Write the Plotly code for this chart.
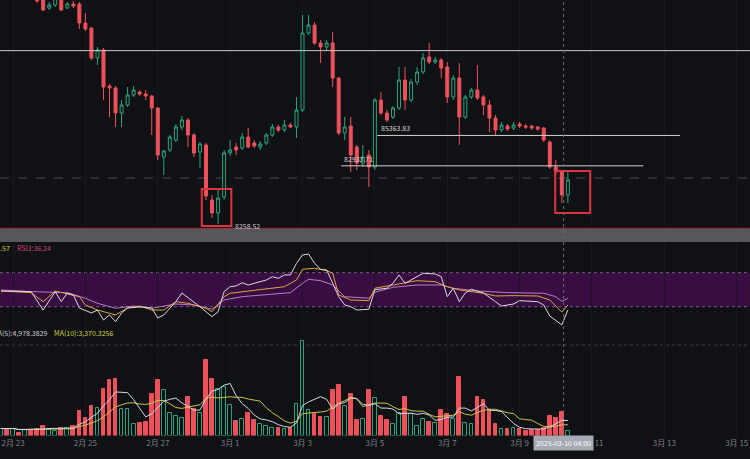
import pandas as pd
import plotly.graph_objects as go
from plotly.subplots import make_subplots

# ---------------- data ----------------
base = pd.Timestamp("2025-02-23 00:00")
candle_idx = list(range(-2, 93))   # 4h candles, index 0 = 2025-02-23 00:00

opens = [96840, 97160, 96680, 97000, 96520, 96840, 96600, 96200, 95560, 95800,
         96280, 95560, 95880, 95880, 94360, 93960, 91560, 92200, 89320, 89160,
         87160, 87800, 88600, 88840, 88680, 88520, 87560, 83640, 84200, 85000,
         86040, 86600, 85400, 84040, 84600, 80200, 79160, 80440, 83960, 84440,
         84360, 85240, 84760, 84440, 84760, 85400, 86040, 85800, 86200, 86040,
         87400, 93560, 94200, 92760, 92440, 92760, 89960, 85560, 86120, 84440,
         83160, 83800, 82840, 88200, 87160, 86840, 87560, 89800, 88200, 89640,
         90440, 91640, 91240, 91400, 90840, 88440, 89960, 86840, 88440, 89000,
         88440, 87800, 86760, 85800, 86120, 85960, 86280, 86120, 86120, 86040,
         85960, 84840, 82840, 82440, 80600]
highs = [97480, 97400, 97320, 97240, 97080, 97160, 96920, 96440, 96040, 96600,
         96440, 96040, 96120, 96040, 95160, 94040, 92440, 92360, 89480, 89320,
         88200, 89240, 89320, 89000, 89000, 88600, 87640, 84200, 85400, 86280,
         86920, 86760, 85560, 84840, 84760, 80600, 81000, 84200, 85000, 84760,
         85560, 85960, 85000, 84920, 85560, 86280, 86200, 86600, 86360, 88440,
         95000, 95000, 94440, 93000, 93000, 93640, 90040, 86840, 86840, 84600,
         84600, 84200, 88360, 88840, 87400, 87720, 90840, 90840, 89880, 90840,
         91960, 92760, 91640, 91560, 91240, 90200, 91160, 88600, 89160, 91000,
         88600, 88200, 87000, 86440, 86280, 86440, 86440, 86280, 86200, 86120,
         86040, 85000, 83400, 82600, 82600]
lows = [96520, 96440, 96440, 96360, 96280, 96280, 95960, 95320, 95400, 95640,
        95320, 95480, 95560, 93880, 93720, 91400, 91000, 88200, 86840, 86040,
        86040, 87640, 88440, 88520, 88200, 85400, 83400, 82200, 84040, 84840,
        85800, 84440, 83640, 82760, 80200, 78760, 78258.52, 80200, 83720, 83800,
        84200, 84360, 84360, 84200, 84600, 85240, 85640, 85640, 85960, 85160,
        87240, 93400, 92600, 91160, 92200, 89240, 85400, 85000, 82440, 82600,
        82840, 81240, 82600, 87000, 86440, 86680, 87400, 87400, 88040, 89400,
        90280, 91080, 91080, 89960, 87960, 88200, 84600, 86680, 88280, 88200,
        87000, 85640, 85400, 85640, 85720, 85800, 85960, 85880, 85800, 85720,
        84840, 82680, 82200, 79960, 79960]
closes = [97160, 96680, 97000, 96520, 96840, 96600, 96120, 95400, 95800, 96360,
          95400, 95880, 95720, 94360, 93880, 91560, 92200, 89240, 89160, 87160,
          87800, 88600, 89000, 88680, 88520, 87560, 83800, 84120, 85240, 86040,
          86600, 85400, 83960, 84680, 80520, 79160, 80360, 83960, 84200, 84200,
          85240, 84440, 84520, 84680, 85400, 86040, 85800, 86200, 86040, 87400,
          93560, 94200, 92760, 92440, 92760, 89960, 85560, 86040, 83800, 83160,
          83640, 82840, 88200, 87160, 86600, 87560, 89800, 88200, 89640, 90440,
          91560, 91240, 91400, 90760, 88440, 89960, 86840, 88440, 89000, 88360,
          87800, 86760, 85800, 86200, 85880, 86200, 86120, 86040, 85960, 85880,
          85000, 82840, 82440, 80600, 81800]
volumes = [2310, 2310, 2310, 990, 1980, 1980, 2310, 3300, 1980, 1650,
           2640, 2640, 3300, 8250, 5940, 9900, 9240, 15510, 18480, 18810,
           8910, 8910, 3960, 4290, 4620, 13860, 18480, 15180, 7590, 6600,
           5940, 12870, 8910, 7590, 25080, 18810, 15510, 16170, 10230, 4950,
           5610, 7590, 5280, 3960, 3300, 2640, 2640, 2310, 2640, 10560,
           31350, 8580, 7260, 6270, 6270, 15180, 16830, 9900, 13860, 5280,
           5610, 15180, 12540, 6600, 5280, 3960, 7590, 12870, 7260, 3300,
           5610, 4620, 4290, 8580, 7260, 5610, 19470, 4290, 3960, 12870,
           11880, 8580, 3960, 2310, 2310, 2640, 2310, 1650, 1980, 1980,
           2640, 6600, 5940, 7920, 1650]

rsi1_idx = [-2, 3, 5, 7, 8, 9, 10, 11, 13, 14, 15, 16, 17, 18, 19, 21, 23, 24, 25, 27,
            28, 30, 31, 32, 33, 34, 35, 36, 37, 38, 39, 40, 42, 43, 44, 45, 46, 47, 48, 49,
            50, 51, 52, 53, 54, 55, 56, 57, 59, 60, 62, 63, 64, 65, 67, 68, 70, 71, 72, 73,
            74, 75, 76, 78, 80, 81, 83, 84, 87, 88, 89, 90, 91, 92]
rsi1_val = [48.5, 47.7, 26.1, 47.7, 35.9, 46.1, 43.8, 28.5, 22.6, 26.1, 14.4, 20.3, 12.4, 22.6, 28.5, 29.7, 28.5, 16.7, 20.3, 35.9,
            46.1, 35.9, 30.0, 24.1, 18.3, 24.1, 47.7, 53.5, 54.4, 58.2, 55.5, 57.5, 61.4, 65.3, 63.4, 67.3, 67.3, 81.0, 90.8, 92.0,
            81.0, 74.0, 73.2, 57.5, 41.8, 32.0, 30.0, 26.1, 27.0, 50.0, 51.7, 57.5, 67.3, 57.5, 65.3, 69.3, 68.5, 65.3, 41.8, 51.7,
            35.9, 46.1, 50.5, 46.1, 35.9, 30.8, 33.2, 37.1, 35.9, 32.0, 19.1, 13.6, 8.5, 26.1]
rsi2_idx = [-2, 3, 5, 7, 9, 11, 12, 14, 17, 19, 21, 23, 25, 27, 29, 32, 33, 35, 36, 39,
            42, 45, 47, 48, 50, 52, 53, 54, 56, 59, 60, 63, 65, 67, 70, 72, 74, 78, 80, 83,
            87, 89, 90, 91, 92]
rsi2_val = [48.5, 46.5, 35.9, 48.5, 45.0, 41.8, 32.0, 26.1, 20.3, 28.5, 30.8, 26.1, 26.1, 35.9, 34.0, 28.1, 24.1, 41.8, 45.8, 48.5,
            50.5, 53.5, 61.4, 74.0, 75.2, 72.4, 69.3, 43.8, 37.9, 37.1, 51.7, 55.5, 57.5, 60.6, 59.4, 53.5, 49.7, 45.8, 42.6, 43.0,
            42.6, 37.9, 30.8, 23.57, 32.0]
rsi3_idx = [-2, 3, 9, 12, 14, 17, 20, 23, 27, 30, 33, 35, 38, 42, 46, 48, 49, 51, 53, 55,
            58, 59, 60, 63, 67, 71, 73, 77, 82, 88, 90, 91, 92]
rsi3_val = [49.7, 47.7, 46.5, 39.9, 34.0, 28.1, 30.8, 28.1, 33.2, 32.0, 27.0, 37.9, 41.8, 43.8, 46.5, 57.5, 62.2, 60.6, 55.5, 41.8,
            39.9, 40.0, 47.0, 52.8, 55.5, 55.5, 51.7, 48.5, 46.5, 45.8, 41.8, 36.24, 39.9]

level_top = 92150          # long white horizontal line
level_a = 85363.83
level_b = 82933.71
low_value = 78258.52
dash_level = 81960
tick_dates = ["2025-02-23", "2025-02-25", "2025-02-27", "2025-03-01", "2025-03-03", "2025-03-05",
              "2025-03-07", "2025-03-09", "2025-03-11", "2025-03-13", "2025-03-15"]
tick_text = ["2月 23", "2月 25", "2月 27", "3月 1", "3月 3", "3月 5", "3月 7", "3月 9", "3月 11", "3月 13", "3月 15"]

# ---------------- helpers / style ----------------
def t(i):
    return base + pd.Timedelta(hours=4 * i)

times = [t(i) for i in candle_idx]
BG = "#101114"
RED = "#f0505a"
GREEN = "#27a67c"
FONT = "Noto Sans CJK SC, Roboto, sans-serif"

fig = make_subplots(rows=3, cols=1, shared_xaxes=True, vertical_spacing=0)

fig.add_trace(go.Candlestick(
    x=times, open=opens, high=highs, low=lows, close=closes,
    increasing=dict(line=dict(color=GREEN, width=1), fillcolor=BG),
    decreasing=dict(line=dict(color=RED, width=1), fillcolor=RED),
    whiskerwidth=0, hoverinfo="skip", showlegend=False), row=1, col=1)

for ix, vals, col in [(rsi3_idx, rsi3_val, "#b77cc6"), (rsi2_idx, rsi2_val, "#e3a23f"),
                      (rsi1_idx, rsi1_val, "#d9d9dc")]:
    fig.add_trace(go.Scatter(x=[t(i) for i in ix], y=vals, mode="lines",
                             line=dict(color=col, width=1), hoverinfo="skip",
                             showlegend=False), row=2, col=1)

up = [c >= o for o, c in zip(opens, closes)]
fig.add_trace(go.Bar(
    x=times, y=volumes, width=4 * 3600 * 1000 * 0.62,
    marker=dict(color=[BG if u else RED for u in up],
                line=dict(color=[GREEN if u else RED for u in up], width=1)),
    hoverinfo="skip", showlegend=False), row=3, col=1)
vs = pd.Series(volumes)
ma5 = vs.rolling(5, min_periods=1).mean()
ma10 = vs.rolling(10, min_periods=1).mean()
fig.add_trace(go.Scatter(x=times, y=ma10, mode="lines", line=dict(color="#c9c64a", width=1),
                         hoverinfo="skip", showlegend=False), row=3, col=1)
fig.add_trace(go.Scatter(x=times, y=ma5, mode="lines", line=dict(color="#cfd8e6", width=1),
                         hoverinfo="skip", showlegend=False), row=3, col=1)

H = 459.0
def py(px):
    return 1 - px / H

xrange_ = [t(-2.16), t(122.2)]
for ax in ["xaxis", "xaxis2", "xaxis3"]:
    fig.layout[ax].update(range=xrange_, showgrid=True, gridcolor="#18191d", gridwidth=1,
                          tickvals=tick_dates, zeroline=False, showline=False, automargin=False,
                          rangeslider=dict(visible=False), showticklabels=False, ticks="")
fig.layout.xaxis3.update(showticklabels=True, ticktext=tick_text, ticklabelstandoff=1,
                         tickfont=dict(color="#7b7e85", size=8, family=FONT))

fig.layout.yaxis.update(domain=[py(228), 1], range=[77960, 96200], showticklabels=False,
                        showgrid=False, zeroline=False, automargin=False)
fig.layout.yaxis2.update(domain=[py(326), py(243)], range=[7.3, 104.9], showticklabels=False,
                         showgrid=False, zeroline=False, automargin=False)
fig.layout.yaxis3.update(domain=[py(435.5), py(326)], range=[0, 36135], showticklabels=False,
                         showgrid=False, zeroline=False, automargin=False)

shapes = [
    dict(type="rect", xref="paper", yref="paper", x0=0, x1=1, y0=py(242), y1=py(229),
         fillcolor="#55575a", line=dict(width=0), layer="below"),
    dict(type="line", xref="paper", yref="paper", x0=0, x1=1, y0=py(228.3), y1=py(228.3),
         line=dict(color="#a83a48", width=1)),
    dict(type="rect", xref="paper", yref="y2", x0=0, x1=1, y0=30, y1=70,
         fillcolor="#380e42", line=dict(width=0), layer="below"),
    dict(type="line", xref="paper", yref="y2", x0=0, x1=1, y0=70, y1=70,
         line=dict(color="#7e5a86", width=1, dash="dot"), layer="below"),
    dict(type="line", xref="paper", yref="y2", x0=0, x1=1, y0=30, y1=30,
         line=dict(color="#7e5a86", width=1, dash="dot"), layer="below"),
    dict(type="line", xref="paper", yref="y3", x0=0, x1=1, y0=29865, y1=29865,
         line=dict(color="#3c3e44", width=1, dash="dot"), layer="below"),
    dict(type="line", xref="paper", yref="y", x0=0, x1=1, y0=level_top, y1=level_top,
         line=dict(color="#c8c8c8", width=1)),
    dict(type="line", xref="paper", yref="y", x0=0, x1=1, y0=dash_level, y1=dash_level,
         line=dict(color="#4a4d52", width=1, dash="dash"), layer="below"),
    dict(type="line", xref="x", yref="y", x0=t(60.4), x1=t(110.6), y0=level_a, y1=level_a,
         line=dict(color="#d0d0d0", width=1)),
    dict(type="line", xref="x", yref="y", x0=t(54.4), x1=t(104.5), y0=level_b, y1=level_b,
         line=dict(color="#d0d0d0", width=1)),
    dict(type="rect", xref="x", yref="y", x0=t(31.3), x1=t(36.2), y0=78120, y1=81080,
         line=dict(color="#e0323c", width=2)),
    dict(type="rect", xref="x", yref="y", x0=t(89.9), x1=t(95.7), y0=79160, y1=82520,
         line=dict(color="#e0323c", width=2)),
    dict(type="line", xref="x", yref="paper", x0=t(91.3), x1=t(91.3), y0=py(437), y1=1,
         line=dict(color="#6a6c72", width=1, dash="dot")),
]
fig.update_layout(shapes=shapes)

ann = [
    dict(x=t(60.6), y=level_a, xref="x", yref="y", text="85363.83", showarrow=False,
         xanchor="left", yanchor="bottom", yshift=0, font=dict(color="#d4d4d4", size=7, family=FONT)),
    dict(x=t(54.5), y=level_b, xref="x", yref="y", text="82933.71", showarrow=False,
         xanchor="left", yanchor="bottom", yshift=0, font=dict(color="#d4d4d4", size=7, family=FONT)),
    dict(x=t(36.4), y=78120, xref="x", yref="y", text="8258.52", showarrow=False,
         xanchor="left", yanchor="middle", font=dict(color="#c8c8c8", size=7, family=FONT)),
    dict(x=12 / 750, y=py(247.5), xref="paper", yref="paper", text="RSI2:23.57", showarrow=False,
         xanchor="right", yanchor="middle", font=dict(color="#d6d23a", size=7, family=FONT)),
    dict(x=15 / 750, y=py(247.5), xref="paper", yref="paper", text="RSI3:36.24", showarrow=False,
         xanchor="left", yanchor="middle", font=dict(color="#c8466e", size=7, family=FONT)),
    dict(x=50 / 750, y=py(333), xref="paper", yref="paper", text="MA(5):4,978.3829", showarrow=False,
         xanchor="right", yanchor="middle", font=dict(color="#c9cbd0", size=7, family=FONT)),
    dict(x=52 / 750, y=py(333), xref="paper", yref="paper", text="MA(10):3,370.3256", showarrow=False,
         xanchor="left", yanchor="middle", font=dict(color="#cfd33a", size=7, family=FONT)),
    dict(x=t(91.3), y=py(442.5), xref="x", yref="paper", text="2025-03-10 04:00", showarrow=False,
         xanchor="center", yanchor="middle", bgcolor="#a6aab2", borderpad=2,
         font=dict(color="#ffffff", size=7, family=FONT)),
]
fig.update_layout(annotations=ann)

fig.update_layout(width=750, height=459, margin=dict(l=0, r=0, t=0, b=0, pad=0),
                  paper_bgcolor=BG, plot_bgcolor=BG, showlegend=False,
                  font=dict(family=FONT), bargap=0)

fig.write_html("out.html", config={"displayModeBar": False},
               post_script="document.body.style.margin='0';document.body.style.background='#101114';")
